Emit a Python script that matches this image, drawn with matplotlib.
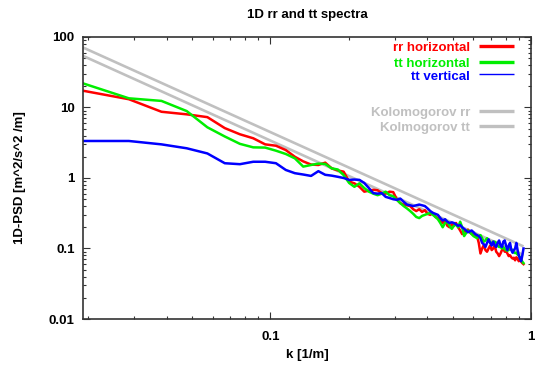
import matplotlib
matplotlib.use("Agg")
import matplotlib.pyplot as plt
import numpy as np
from matplotlib.ticker import FixedLocator, LogLocator, NullFormatter

plt.rcParams["font.family"] = ["Liberation Sans", "DejaVu Sans"]
plt.rcParams["font.weight"] = "bold"

# wavenumber grid: k = n * dk, n = 2 .. 98
dk = 0.00955
n_idx = np.arange(2, 99)
k = n_idx * dk

rr_horizontal = [
    17.3, 13.1, 8.7, 8.0, 7.3, 5.1, 4.17, 3.66, 3.0, 2.87,
    2.49, 2.0, 1.72, 1.55, 1.53, 1.65, 1.37, 1.28, 1.23, 0.89,
    0.84, 0.75, 0.64, 0.66, 0.68, 0.67, 0.61, 0.60, 0.64, 0.63,
    0.50, 0.44, 0.42, 0.41,
    0.40, 0.36, 0.34, 0.36, 0.33, 0.35, 0.31, 0.30, 0.32, 0.28,
    0.27, 0.25, 0.23, 0.25, 0.21, 0.20, 0.22, 0.21, 0.23, 0.20,
    0.18, 0.16, 0.18, 0.17, 0.185, 0.17, 0.16, 0.165, 0.155, 0.15,
    0.12, 0.085, 0.10, 0.112, 0.095, 0.09, 0.10, 0.11, 0.095, 0.10,
    0.11, 0.09, 0.085, 0.078, 0.085, 0.095, 0.10, 0.09, 0.092, 0.085,
    0.078, 0.08, 0.075, 0.072, 0.074, 0.068, 0.075, 0.072, 0.066, 0.07,
    0.065, 0.062, 0.06,
]

tt_horizontal = [
    22.0, 13.5, 12.4, 8.9, 5.24, 3.88, 3.05, 2.72, 2.7, 2.44,
    2.19, 1.9, 1.45, 1.53, 1.6, 1.58, 1.37, 1.32, 1.1, 0.85,
    0.75, 0.84, 0.72, 0.64, 0.60, 0.57, 0.60, 0.64, 0.57, 0.55,
    0.49, 0.44, 0.40, 0.37,
    0.34, 0.31, 0.28, 0.27, 0.29, 0.30, 0.31, 0.32, 0.30, 0.28,
    0.26, 0.23, 0.20, 0.23, 0.24, 0.21, 0.19, 0.21, 0.22, 0.20,
    0.24, 0.20, 0.15, 0.165, 0.18, 0.17, 0.16, 0.15, 0.145, 0.14,
    0.15, 0.155, 0.14, 0.125, 0.13, 0.14, 0.13, 0.12, 0.12, 0.125,
    0.125, 0.12, 0.11, 0.105, 0.105, 0.10, 0.105, 0.098, 0.095, 0.093,
    0.095, 0.10, 0.098, 0.092, 0.088, 0.086, 0.087, 0.082, 0.08, 0.075,
    0.07, 0.065, 0.062,
]

tt_vertical = [
    3.35, 3.35, 3.0, 2.64, 2.23, 1.62, 1.57, 1.70, 1.70, 1.62,
    1.30, 1.17, 1.12, 1.07, 1.25, 1.11, 1.08, 1.04, 1.0, 0.94,
    0.95, 0.94, 0.85, 0.72, 0.61, 0.60, 0.61, 0.54, 0.52, 0.50,
    0.49, 0.51, 0.46, 0.42,
    0.41, 0.40, 0.41, 0.42, 0.41, 0.40, 0.37, 0.34, 0.32, 0.31,
    0.30, 0.27, 0.25, 0.26, 0.24, 0.23, 0.235, 0.23, 0.22, 0.21,
    0.215, 0.20, 0.19, 0.18, 0.17, 0.175, 0.18, 0.17, 0.16, 0.155,
    0.15, 0.14, 0.12, 0.115, 0.105, 0.12, 0.135, 0.12, 0.11, 0.125,
    0.11, 0.105, 0.12, 0.13, 0.11, 0.105, 0.125, 0.13, 0.11, 0.095,
    0.11, 0.12, 0.095, 0.087, 0.095, 0.10, 0.12, 0.095, 0.08, 0.072,
    0.066, 0.08, 0.10,
]

# Kolmogorov -5/3 reference lines, end points
kolmo_k = [0.0191, 0.936]
kolmo_rr = [71.0, 0.107]
kolmo_tt = [54.0, 0.081]

W, H = 535, 365
fig = plt.figure(figsize=(W / 100, H / 100), dpi=100)
ax = fig.add_axes([83 / W, 1 - 319 / H, 448 / W, 282 / H])

gray = "#c0c0c0"
ax.plot(kolmo_k, kolmo_rr, color=gray, lw=1.9, solid_capstyle="butt")
ax.plot(kolmo_k, kolmo_tt, color=gray, lw=1.9, solid_capstyle="butt")
ax.plot(k, rr_horizontal, color="#ff0000", lw=1.8)
ax.plot(k, tt_horizontal, color="#00ee00", lw=1.8)
ax.plot(k, tt_vertical, color="#0000ff", lw=1.8)

ax.set_xscale("log")
ax.set_yscale("log")
ax.set_xlim(0.0191, 1.0)
ax.set_ylim(0.01, 100)

ax.xaxis.set_major_locator(FixedLocator([0.1, 1]))
ax.set_xticklabels(["0.1", "1"])
ax.yaxis.set_major_locator(FixedLocator([0.01, 0.1, 1, 10, 100]))
ax.set_yticklabels(["0.01", "0.1", "1", "10", "100"])
ax.xaxis.set_minor_locator(LogLocator(base=10, subs=np.arange(2, 10)))
ax.yaxis.set_minor_locator(LogLocator(base=10, subs=np.arange(2, 10)))
ax.xaxis.set_minor_formatter(NullFormatter())
ax.yaxis.set_minor_formatter(NullFormatter())

ax.tick_params(which="both", direction="in", top=True, right=True,
               color="#333333", width=0.8)
ax.tick_params(which="major", length=5)
ax.tick_params(which="minor", length=2.5)
ax.tick_params(axis="x", labelsize=9.5, pad=9)
ax.tick_params(axis="y", labelsize=9.5, pad=6)
for lab in ax.get_xticklabels() + ax.get_yticklabels():
    lab.set_fontweight("bold")
for sp in ax.spines.values():
    sp.set_color("#333333")
    sp.set_linewidth(1.2)

fig.text(307 / W, 1 - 15 / H, "1D rr and tt spectra", ha="center", va="center",
         fontsize=9.5, fontweight="bold")
fig.text(307 / W, 1 - 355 / H, "k [1/m]", ha="center", va="center",
         fontsize=9.5, fontweight="bold")
fig.text(20 / W, 1 - 178 / H, "1D-PSD [m^2/s^2 /m]", ha="center", va="center",
         rotation=90, fontsize=9.5, fontweight="bold")

# key, gnuplot style: right-aligned text, sample line to its right
key_rows = [
    ("rr horizontal", "#ff0000", 2.4, 46),
    ("tt horizontal", "#00ee00", 2.4, 61.7),
    ("tt vertical", "#0000ff", 1.0, 74.3),
    ("Kolomogorov rr", gray, 2.4, 111),
    ("Kolmogorov tt", gray, 2.4, 125.7),
]
for label, color, lw, ypix in key_rows:
    yf = (319 - ypix) / 282
    ax.plot([(479 - 83) / 448, (514 - 83) / 448], [yf, yf], color=color, lw=lw,
            transform=ax.transAxes, solid_capstyle="butt")
    ax.text((470 - 83) / 448, yf - 2.5 / 282, label, color=color, ha="right",
            va="center", fontsize=9.5, fontweight="bold", transform=ax.transAxes)

fig.savefig("out.png", dpi=100)
